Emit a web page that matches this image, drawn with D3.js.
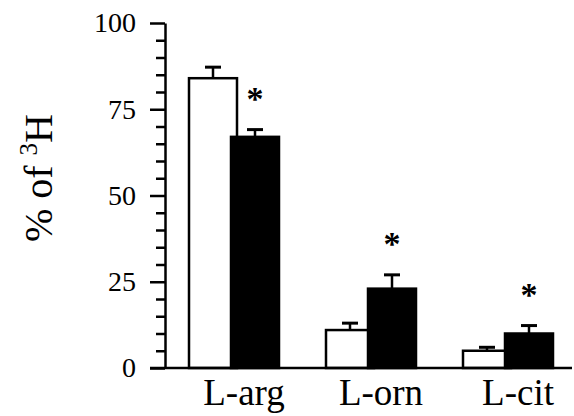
<!DOCTYPE html>
<html>
<head>
<meta charset="utf-8">
<script src="https://cdn.jsdelivr.net/npm/d3@7"></script>
</head>
<body style="margin:0">
<svg id="chart" width="574" height="416"></svg>
<script>
// Amino acid fractions (% of tritium label)
const categories = ["L-arg", "L-orn", "L-cit"];
const seriesNames = ["control", "treated"];
const controlValues = [84, 11, 5];
const controlErrors = [3.2, 2, 1];
const treatedValues = [67, 23, 10];
const treatedErrors = [2.1, 4, 2.3];
const significant = [true, true, true];
const majorTicks = [0, 25, 50, 75, 100];
const minorTicks = d3.range(0, 101, 5).filter(v => v % 25 !== 0);

const svg = d3.select("#chart");
const axisX = 165, baseY = 368, topY = 23;

// serif text helper
function serif(sel, size) {
  return sel.attr("font-family", "Liberation Serif")
    .style("font-family", '"Liberation Serif"')
    .style("font-size", size + "px");
}

const y = d3.scaleLinear().domain([0, 100]).range([baseY, topY]);
const x = d3.scaleBand().domain(categories).range([189, 553]).paddingInner(47 / 137).paddingOuter(0);
const xs = d3.scalePoint().domain(seriesNames).range([0, 42]);
const barW = 48;

const rows = categories.map((c, i) => ({
  cat: c,
  bars: [
    { s: "control", v: controlValues[i], e: controlErrors[i], fill: "#fff", star: false },
    { s: "treated", v: treatedValues[i], e: treatedErrors[i], fill: "#000", star: significant[i] }
  ]
}));

const g = svg.append("g");

// error bars (upper half only)
rows.forEach(r => {
  r.bars.forEach(b => {
    const cx = x(r.cat) + xs(b.s) + barW / 2;
    g.append("line")
      .attr("x1", cx).attr("x2", cx)
      .attr("y1", y(b.v)).attr("y2", y(b.v + b.e))
      .attr("stroke", "#000").attr("stroke-width", 2.5);
    g.append("line")
      .attr("x1", cx - 8).attr("x2", cx + 8)
      .attr("y1", y(b.v + b.e)).attr("y2", y(b.v + b.e))
      .attr("stroke", "#000").attr("stroke-width", 3);
  });
});

// bars: white control bar, black treated bar overlapping it
rows.forEach(r => {
  r.bars.forEach(b => {
    g.append("rect")
      .attr("x", x(r.cat) + xs(b.s))
      .attr("y", y(b.v))
      .attr("width", barW)
      .attr("height", y(0) - y(b.v))
      .attr("fill", b.fill)
      .attr("stroke", "#000")
      .attr("stroke-width", 2.5);
    if (b.star) {
      serif(g.append("text"), 34)
        .attr("x", x(r.cat) + xs(b.s) + barW / 2)
        .attr("y", y(b.v + b.e) - 20)
        .attr("text-anchor", "middle")
        .style("font-weight", "bold")
        .text("*");
    }
  });
});

// y axis: major ticks with labels, minor ticks every 5
const major = d3.axisLeft(y).tickValues(majorTicks).tickSize(15).tickSizeOuter(0).tickPadding(14);
const minor = d3.axisLeft(y).tickValues(minorTicks).tickSize(9).tickSizeOuter(0).tickFormat("");

const ga = svg.append("g").attr("transform", `translate(${axisX},0)`).call(major);
ga.attr("font-family", "Liberation Serif").attr("font-size", 28);
ga.select(".domain").attr("stroke-width", 2.5);
ga.selectAll(".tick line").attr("stroke-width", 2.5);
serif(ga.selectAll(".tick text"), 28).attr("fill", "#000");

const gm = svg.append("g").attr("transform", `translate(${axisX},0)`).call(minor);
gm.select(".domain").remove();
gm.selectAll(".tick line").attr("stroke-width", 2.5);

// baseline
svg.append("line")
  .attr("x1", axisX - 15).attr("x2", 572)
  .attr("y1", y(0)).attr("y2", y(0))
  .attr("stroke", "#000").attr("stroke-width", 2.5);

// category labels
serif(svg.selectAll(".cat")
  .data(categories)
  .enter().append("text"), 37)
  .attr("class", "cat")
  .attr("x", d => x(d) + x.bandwidth() / 2 + 10)
  .attr("y", 405)
  .attr("text-anchor", "middle")
  .text(d => d);

// y axis title
const yt = serif(svg.append("text"), 40)
  .attr("transform", "translate(52,178) rotate(-90)")
  .attr("text-anchor", "middle");
yt.append("tspan").text("% of ");
yt.append("tspan").style("font-size", "25px").attr("dy", -15).text("3");
yt.append("tspan").attr("dy", 15).text("H");
</script>
</body>
</html>
